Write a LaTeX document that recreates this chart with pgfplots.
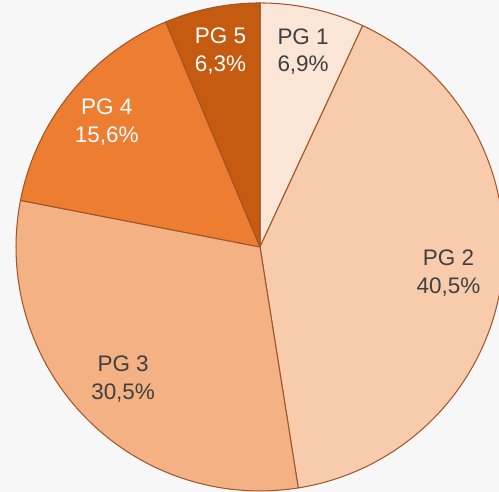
\documentclass[border=0pt]{standalone}
\usepackage{pgfplots}
\usepackage{pgfplotstable}
\pgfplotsset{compat=1.18}
\usepackage{fontspec}
\setmainfont{Liberation Sans}
\definecolor{bg}{RGB}{247,247,247}
\definecolor{edge}{RGB}{160,85,40}
\definecolor{pie0}{RGB}{251,229,214}
\definecolor{pie1}{RGB}{248,203,173}
\definecolor{pie2}{RGB}{244,177,131}
\definecolor{pie3}{RGB}{237,125,49}
\definecolor{pie4}{RGB}{197,90,17}
\definecolor{txtdark}{RGB}{64,64,64}

\pgfplotstableread{
name value lr txt
1 6.9 0.82 txtdark
2 40.5 0.78 txtdark
3 30.5 0.78 txtdark
4 15.6 0.81 white
5 6.3 0.82 white
}\pietable

\begin{document}
\begin{tikzpicture}
\begin{axis}[x=1cm, y=1cm, hide axis,
  xmin=-5.328, xmax=4.898, ymin=-5.020, ymax=5.061, clip=true]
\fill[bg] (axis cs:-5.328,-5.020) rectangle (axis cs:4.898,5.061);
\pgfplotstablegetrowsof{\pietable}
\pgfmathtruncatemacro\nrows{\pgfplotsretval-1}
\def\total{99.8}
\def\cum{0}
\pgfplotsforeachungrouped \i in {0,...,\nrows}{%
  \pgfplotstablegetelem{\i}{value}\of\pietable
  \let\vv\pgfplotsretval
  \pgfmathsetmacro\sa{90-\cum/\total*360}%
  \pgfmathsetmacro\ea{90-(\cum+\vv)/\total*360}%
  \pgfmathsetmacro\cum{\cum+\vv}%
  \pgfmathsetmacro\sx{5*cos(\sa)}%
  \pgfmathsetmacro\sy{5*sin(\sa)}%
  \edef\temp{%
    \noexpand\filldraw[fill=pie\i, draw=edge, line width=0.6pt, line join=round]
      (axis cs:0,0) -- (axis cs:\sx,\sy) arc[start angle=\sa, end angle=\ea, radius=5] -- cycle;
  }\temp
}
\def\cum{0}
\pgfplotsforeachungrouped \i in {0,...,\nrows}{%
  \pgfplotstablegetelem{\i}{value}\of\pietable
  \let\vv\pgfplotsretval
  \pgfplotstablegetelem{\i}{name}\of\pietable
  \let\nm\pgfplotsretval
  \pgfplotstablegetelem{\i}{lr}\of\pietable
  \let\lrr\pgfplotsretval
  \pgfplotstablegetelem{\i}{txt}\of\pietable
  \let\tc\pgfplotsretval
  \pgfmathsetmacro\sa{90-\cum/\total*360}%
  \pgfmathsetmacro\ea{90-(\cum+\vv)/\total*360}%
  \pgfmathsetmacro\ma{(\sa+\ea)/2}%
  \pgfmathsetmacro\cum{\cum+\vv}%
  \pgfmathsetmacro\lx{5*\lrr*cos(\ma)}%
  \pgfmathsetmacro\ly{5*\lrr*sin(\ma)}%
  \edef\temp{%
    \noexpand\node[text=\tc, align=center, inner sep=0pt,
      font=\noexpand\fontsize{13.1}{16.3}\noexpand\selectfont]
      at (axis cs:\lx,\ly) {PG \nm\noexpand\\\noexpand\pgfmathprintnumber[fixed,fixed zerofill,precision=1,use comma,assume math mode=true]{\vv}\noexpand\%};
  }\temp
}
\end{axis}
\end{tikzpicture}
\end{document}
